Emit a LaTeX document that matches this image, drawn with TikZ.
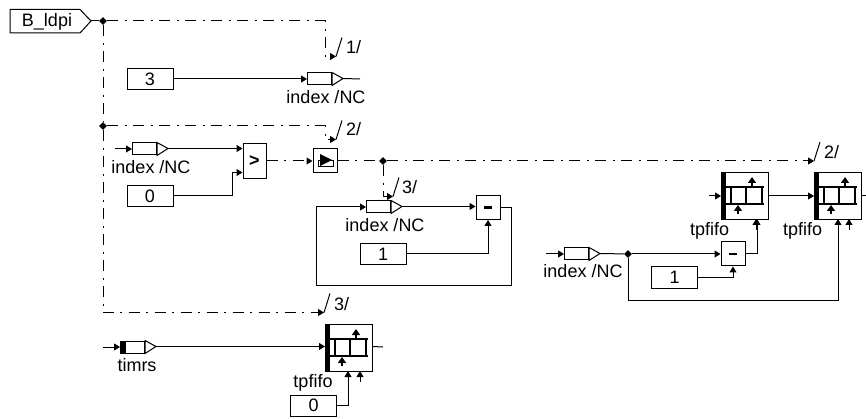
\documentclass[tikz,border=0pt]{standalone}
\usepackage{fontspec}
\setmainfont{Liberation Sans}
\usetikzlibrary{arrows.meta,shapes.geometric,calc}
\tikzset{
  wire/.style={line width=1pt,draw=black},
  arr/.style={wire,-{Triangle[length=6pt,width=7pt]}},
  bus/.style={wire,dash pattern=on 11pt off 6.5pt on 2pt off 6.5pt},
  busarr/.style={bus,-{Triangle[length=6pt,width=7pt]}},
  box/.style={draw=black,line width=1pt,fill=white,inner sep=0pt,rectangle},
  constbox/.style={box,minimum width=46pt,minimum height=21pt,lbl},
  opbox/.style={box,minimum width=24pt,minimum height=24pt},
  tagbox/.style={box,minimum width=24pt,minimum height=12pt},
  junction/.style={diamond,fill=black,inner sep=0pt,minimum size=8pt},
  lbl/.style={font=\fontsize{18}{20}\selectfont,inner sep=0pt},
  slashline/.style={line width=1pt,draw=black},
  tick/.style={line width=1.5pt,-{Triangle[length=6pt,width=8pt]}},
}
% tag: name, x of left, y of centre
\newcommand{\tagmark}[3]{%
  \node[tagbox,anchor=west] (#1) at (#2,#3) {};
  \draw[wire,fill=white] (#1.north east) -- ++(11,6) coordinate (#1tip) -- (#1.south east) -- cycle;
}
% fifo: name, left, top
\newcommand{\fifomark}[3]{%
  \node[box,anchor=north west,minimum width=47pt,minimum height=47pt] (#1) at (#2,#3) {};
  \fill[black] (#1.north west) rectangle ++(5,47);
  \begin{scope}[shift={(#1.north west)}]
    \draw[line width=1.7pt] (5,15) -- (43,15) (5,32) -- (43,32);
    \draw[line width=1.7pt] (10,15) -- (10,32) (25,15) -- (25,32) (41,15) -- (41,32);
    \draw[tick] (31,15) -- (31,5);
    \draw[tick] (17,42) -- (17,33);
    \draw[arr] (35,58) -- (35,47);
  \end{scope}
}
\begin{document}
\begin{tikzpicture}[x=1pt,y=-1pt]
\useasboundingbox (0,0) rectangle (866,419);

% top input
\node[lbl] (inlabel) at (47,21.5) {B\_ldpi};
\draw[wire] (10,9.5) coordinate (p0) -- (80,9.5) -- (91,21) coordinate (intip) -- (80,33) -- (10,33) -- cycle;
\node[junction] (j1) at (103,21) {};
\node[junction] (j2) at (103,126) {};
\node[junction] (j3) at (383,161) {};
\node[junction] (j4) at (628,254) {};
\draw[wire] (intip) -- (j1);

% bus branches
\coordinate (e1) at (336,56.5);
\coordinate (e2) at (336,139.5);
\coordinate (e3) at (324,312.5);
\coordinate (e4) at (393,196.5);
\coordinate (e5) at (814,161);
\draw[busarr] (j1) -| (325,56.5) -- (e1);
\draw[bus] (j1) -- (j2);
\draw[busarr] (j2) -| (325,139.5) -- (e2);
\draw[busarr] (j2) |- (e3);
\draw[slashline] (e1) -- ++(6,-19);
\draw[slashline] (e2) -- ++(6,-19);
\draw[slashline] (e3) -- ++(6,-19);
\draw[slashline] (e4) -- ++(6,-19);
\draw[slashline] (e5) -- ++(6,-19);
\node[lbl,anchor=west] (l1) at (346,47) {1/};
\node[lbl,anchor=west] (l2) at (346,129) {2/};
\node[lbl,anchor=west] (l3) at (334,304) {3/};
\node[lbl,anchor=west] (l4) at (402,187) {3/};
\node[lbl,anchor=west] (l5) at (824,152) {2/};

% const 3 row
\node[constbox] (c3) at (150,79) {3};
\tagmark{t1}{307}{79}
\coordinate (t1end) at (360,79);
\draw[arr] (c3.east) -- (t1.west);
\draw[wire] (t1tip) -- (t1end);
\node[lbl] (t1l) at (326,97) {index /NC};

% comparison row
\coordinate (t2in) at (115,149);
\tagmark{t2}{132}{149}
\node[lbl] (t2l) at (151,167) {index /NC};
\node[constbox] (c0) at (150,196) {0};
\node[box,minimum width=23pt,minimum height=35pt,font=\fontsize{18}{20}\selectfont\bfseries] (gt) at (254.5,161) {>};
\node[box,minimum width=24pt,minimum height=24pt] (sw) at (325,161) {};
\draw[line width=1pt] (318,161) rectangle (333,167);
\fill (320,154) -- (332,160) -- (320,166) -- cycle;
\draw[arr] (t2in) -- (t2.west);
\draw[arr] (t2tip) -- (gt.west |- t2tip);
\draw[arr] (c0.east) -- (232,196) -- (232,172.5) -- (gt.west |- 0,172.5);
\draw[busarr] (gt.east) -- (sw.west);
\draw[bus] (sw.east) -- (j3);
\draw[busarr] (j3) -- (e5);
\draw[busarr] (j3) |- (e4);

% feedback loop
\tagmark{t3}{366}{207}
\node[lbl] (t3l) at (385,225) {index /NC};
\node[opbox] (m1) at (488,207.5) {};
\fill ($(m1)+(-4,-1.2)$) rectangle ($(m1)+(4,1.2)$);
\node[constbox] (c1) at (383,254) {1};
\draw[arr] (t3tip) -- (m1.west |- t3tip);
\draw[arr] (c1.east) -| (m1.south);
\draw[arr] (m1.east) -- (511.5,207.5) -- (511.5,285) -- (316,285) -- (316,207) -- (t3.west);

% right group
\fifomark{f1}{721}{172}
\fifomark{f2}{814}{172}
\node[lbl] (f1l) at (709.5,231) {tpfifo};
\node[lbl] (f2l) at (802.5,231) {tpfifo};
\coordinate (f1in) at (709,196);
\coordinate (f2out) at (866,196);
\draw[arr] (f1in) -- (f1.west |- f1in);
\draw[arr] (f1.east |- f1in) -- (f2.west |- f1in);
\draw[wire] (f2.east |- f1in) -- (f2out);
\coordinate (t4in) at (546,254);
\tagmark{t4}{564}{254}
\node[lbl] (t4l) at (583,271) {index /NC};
\node[opbox] (m2) at (733,254) {};
\fill ($(m2)+(-4,-1.2)$) rectangle ($(m2)+(4,1.2)$);
\node[constbox] (c2) at (674.5,277.5) {1};
\draw[arr] (t4in) -- (t4.west);
\draw[wire] (t4tip) -- (j4);
\draw[arr] (j4) -- (m2.west);
\draw[arr] (c2.east) -| (m2.south);
\draw[arr] (m2.east) -- (757,254) -- (757,219);
\draw[arr] (j4) |- (838,300.5) -- (838,219);

% bottom row
\coordinate (t5in) at (103,347);
\tagmark{t5}{120}{347}
\fill (t5.north west) rectangle ++(6,12);
\node[lbl] (t5l) at (137,365) {timrs};
\fifomark{f3}{325}{324}
\node[lbl] (f3l) at (313,383) {tpfifo};
\node[constbox] (c4) at (313.5,405.5) {0};
\coordinate (f3out) at (383,347);
\draw[arr] (t5in) -- (t5.west);
\draw[arr] (t5tip) -- (f3.west |- t5tip);
\draw[wire] (f3.east |- t5tip) -- (f3out);
\draw[arr] (c4.east) -- (348,405.5) -- (348,371);
\end{tikzpicture}
\end{document}
